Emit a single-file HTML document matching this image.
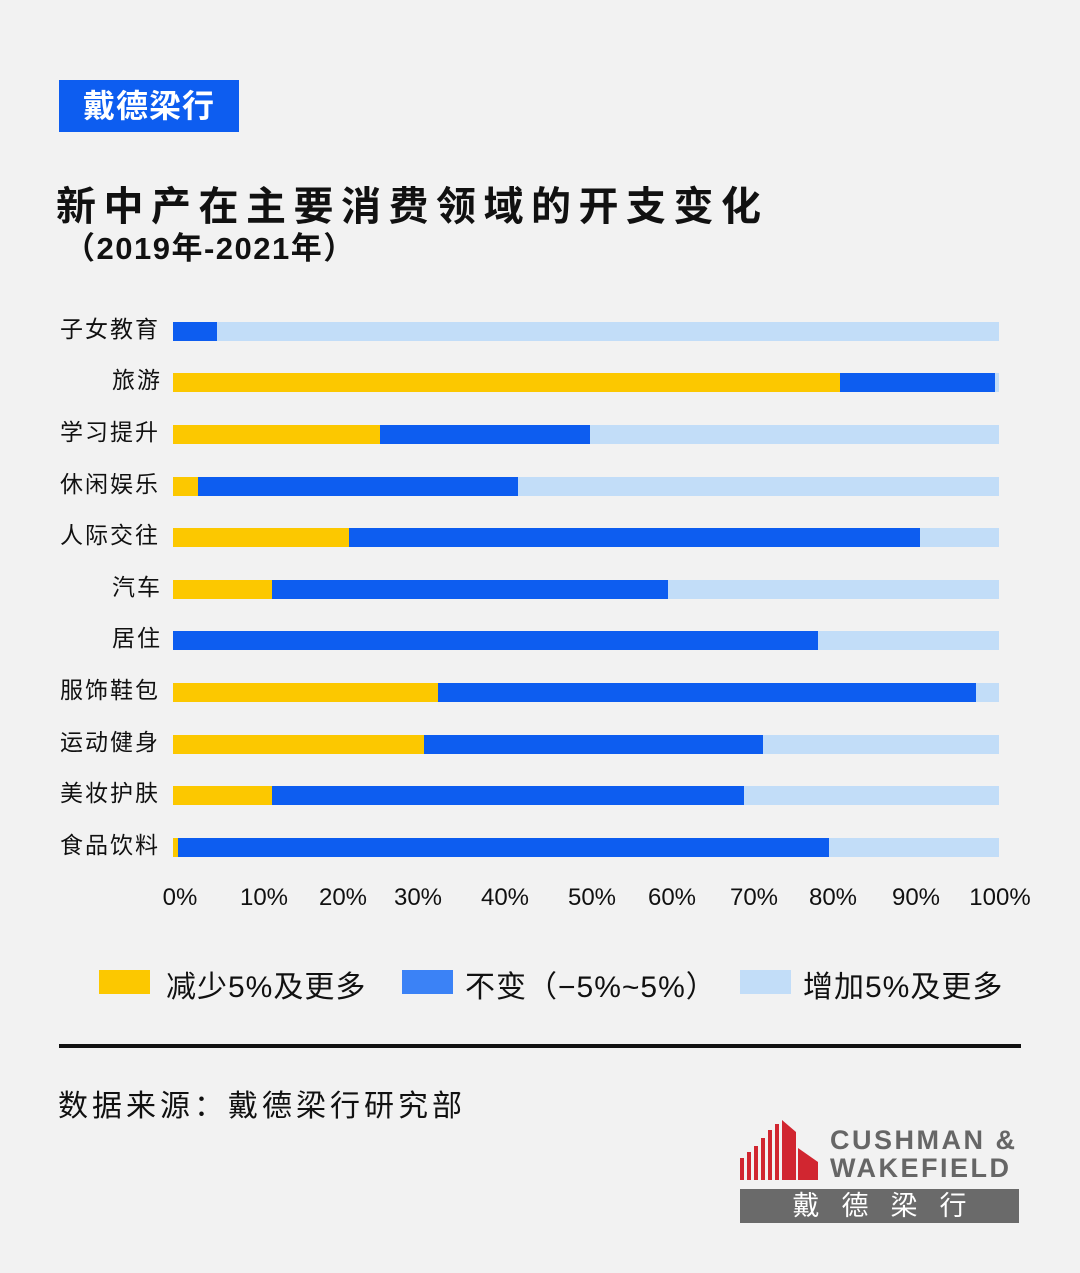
<!DOCTYPE html>
<html><head><meta charset="utf-8"><style>
body{margin:0;width:1080px;height:1273px;background:#f2f2f2;position:relative;overflow:hidden;font-family:"Liberation Sans","Noto Sans CJK SC",sans-serif;color:#111}
.a{position:absolute;white-space:nowrap}
.bar{position:absolute;height:19px}
.lab{position:absolute;left:58px;font-size:23px;letter-spacing:2px;line-height:24px}
.tk{position:absolute;top:884px;font-size:24px;transform:translateX(-50%)}
</style></head><body>
<div class="a" style="left:59px;top:80px;width:180px;height:52px;background:#0d5df0;color:#fff;font-size:32px;font-weight:bold;line-height:52px;text-align:center;letter-spacing:1px">戴德梁行</div>
<div class="a" style="left:56px;top:174px;font-size:40px;font-weight:bold;letter-spacing:7.5px">新中产在主要消费领域的开支变化</div>
<div class="a" style="left:64px;top:223px;font-size:31px;font-weight:bold;letter-spacing:1.5px">（2019年-2021年）</div>
<div id="c"></div>
<div class="a" style="left:99px;top:970px;width:51px;height:24px;background:#fcc800"></div>
<div class="a" style="left:166px;top:962px;font-size:30px;letter-spacing:1px">减少5%及更多</div>
<div class="a" style="left:402px;top:970px;width:51px;height:24px;background:#3b82f6"></div>
<div class="a" style="left:465px;top:962px;font-size:30px;letter-spacing:1px">不变（−5%~5%）</div>
<div class="a" style="left:740px;top:970px;width:51px;height:24px;background:#c2ddf8"></div>
<div class="a" style="left:803px;top:962px;font-size:30px;letter-spacing:1px">增加5%及更多</div>
<div class="a" style="left:59px;top:1044px;width:962px;height:4px;background:#111"></div>
<div class="a" style="left:58px;top:1081px;font-size:30px;letter-spacing:4px">数据来源：戴德梁行研究部</div>
<svg class="a" style="left:738px;top:1118px" width="82" height="62" viewBox="0 0 82 62">
<g fill="#d12630">
<rect x="2" y="40" width="4" height="22"/><rect x="9" y="34" width="4" height="28"/><rect x="16" y="28" width="4" height="34"/><rect x="23" y="20" width="4" height="42"/><rect x="30" y="12" width="4" height="50"/><rect x="37" y="6" width="4" height="56"/>
<polygon points="44,2 58,14 58,62 44,62"/><polygon points="60,30 80,44 80,62 60,62"/></g></svg>
<div class="a" style="left:830px;top:1126px;font-size:27px;font-weight:bold;color:#666;letter-spacing:2.5px;line-height:28px">CUSHMAN &amp;<br>WAKEFIELD</div>
<div class="a" style="left:740px;top:1189px;width:279px;height:34px;background:#6a6a6a;color:#fff;font-size:27px;line-height:34px;text-align:center;letter-spacing:22px;text-indent:22px">戴德梁行</div>
<script>
var d=[["子女教育",331,173,217],["旅游",382,840,995],["学习提升",434,380,590],["休闲娱乐",486,198,518],["人际交往",537,349,920],["汽车",589,272,668],["居住",640,173,818],["服饰鞋包",692,438,976],["运动健身",744,424,763],["美妆护肤",795,272,744],["食品饮料",847,178,829]];
var h="";
d.forEach(function(r){var t=r[1]-9;
h+='<div class="bar" style="left:173px;top:'+t+'px;width:826px;background:#c2ddf8"></div>';
h+='<div class="bar" style="left:173px;top:'+t+'px;width:'+(r[2]-173)+'px;background:#fcc800"></div>';
h+='<div class="bar" style="left:'+r[2]+'px;top:'+t+'px;width:'+(r[3]-r[2])+'px;background:#0d5df0"></div>';
var lw=r[0].length*26;
h+='<div class="lab" style="left:'+(164-lw)+'px;top:'+(r[1]-14)+'px">'+r[0]+'</div>';});
var tx=[180,264,343,418,505,592,672,754,833,916,1000];
tx.forEach(function(x,i){h+='<div class="tk" style="left:'+x+'px">'+(i*10)+'%</div>';});
document.getElementById("c").innerHTML=h;
</script>
</body></html>
